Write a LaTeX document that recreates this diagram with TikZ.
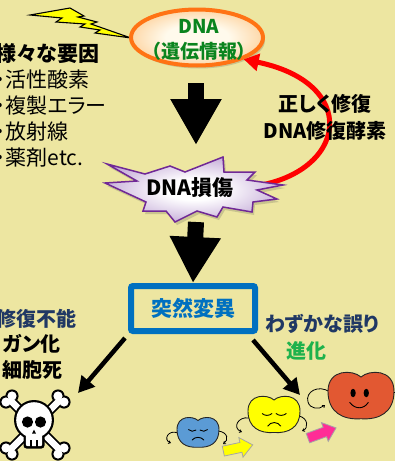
\documentclass[tikz,border=0pt]{standalone}
\usepackage{fontspec}
\setmainfont{Noto Sans CJK JP}[RawFeature=+palt]
\usetikzlibrary{arrows.meta,shapes.geometric,shadows}

\definecolor{bgyellow}{RGB}{237,230,161}
\definecolor{dnaorange}{RGB}{255,115,20}
\definecolor{dnain}{RGB}{255,250,236}
\definecolor{dnaout}{RGB}{252,192,122}
\definecolor{dnagreen}{RGB}{10,132,30}
\definecolor{dmgpurple}{RGB}{112,40,150}
\definecolor{dmgout}{RGB}{180,148,205}
\definecolor{repairred}{RGB}{255,0,0}
\definecolor{boxblue}{RGB}{0,112,192}
\definecolor{navy}{RGB}{32,56,100}
\definecolor{evogreen}{RGB}{30,178,76}
\definecolor{appleblue}{RGB}{91,155,213}
\definecolor{appleyellow}{RGB}{255,255,0}
\definecolor{applered}{RGB}{226,88,50}
\definecolor{arrowpink}{RGB}{255,45,150}
\definecolor{boltyellow}{RGB}{255,255,0}

\pgfdeclareradialshading{dnaglow}{\pgfpointorigin}{color(0bp)=(dnain); color(12bp)=(dnain); color(34bp)=(dnaout); color(50bp)=(dnaout)}
\pgfdeclareradialshading{dmgglow}{\pgfpointorigin}{color(0bp)=(white); color(8bp)=(white); color(32bp)=(dmgout); color(50bp)=(dmgout)}

% unit apple outline, y pointing down
\newcommand{\applepath}{(0,-0.72) .. controls (-0.25,-1.02) and (-1,-1.05) .. (-1,-0.15)
  .. controls (-1,0.7) and (-0.55,1.0) .. (0,0.95)
  .. controls (0.55,1.0) and (1,0.7) .. (1,-0.15)
  .. controls (1,-1.05) and (0.25,-1.02) .. (0,-0.72) -- cycle}
% unit block arrow pointing right, 30 long and 20 wide
\newcommand{\blockarrowpath}{(-15,-5) -- (3,-5) -- (3,-10) -- (15,0) -- (3,10) -- (3,5) -- (-15,5) -- cycle}

\begin{document}
\begin{tikzpicture}[x=1pt,y=-1pt,
  lbl/.style={inner sep=0pt, font=\bfseries\fontsize{20}{27}\selectfont},
  blockarrow/.style={line width=16pt, -{Triangle[width=48pt,length=46pt]}},
  fatearrow/.style={line width=4.5pt, -{Triangle[width=17pt,length=16pt]}},
  repair/.style={line width=5pt, draw=repairred, -{Triangle[width=17pt,length=15pt]}},
  feature/.style={line width=0.9pt, line cap=round},
  arm/.style={line width=0.8pt, -{Straight Barb[length=2pt,width=3pt]}},
  softshadow/.style={drop shadow={opacity=0.22, fill=black!70, shadow xshift=2pt, shadow yshift=-3pt}},
  progress/.style={draw=black!35, line width=0.8pt, line join=miter},
]
\useasboundingbox (0,0) rectangle (395,461);
\fill[bgyellow] (0,0) rectangle (395,461);
\clip (0,0) rectangle (395,461);

% lightning bolt striking the DNA
\filldraw[fill=boltyellow, draw=black, line width=1.1pt, line join=miter]
  (30,15) -- (70,8) -- (84,16) -- (78,17) -- (97,22) -- (91,24) -- (131,38)
  -- (95,33) -- (100,30) -- (80,27) -- (85,24) -- (56,22) -- (62,18) -- cycle;

% DNA (genetic information)
\node[ellipse, minimum width=132pt, minimum height=56pt, draw=dnaorange,
      line width=4pt, shading=dnaglow, softshadow] (dna) at (197,37.5) {};
\node[lbl, align=center, text=dnagreen, font=\bfseries\fontsize{19}{25}\selectfont]
  (dnatext) at (199,40) {DNA\\（遺伝情報）};

% causes
\node[anchor=north west, align=left, inner sep=0pt,
      font=\fontsize{21}{26}\selectfont] (causes) at (-5,43)
  {\textbf{様々な要因}\\・活性酸素\\・複製エラー\\・放射線\\・薬剤etc.};

% damage label (placed first so the repair arc can start from it)
\node[lbl, font=\bfseries\fontsize{21}{21}\selectfont] (dmg) at (190,188) {DNA損傷};

% repair arc back to the DNA
\draw[repair] (dmg.east) .. controls (345,185) and (368,85) .. (dna.-25);
\node[lbl, align=center] (repairtext) at (325,117) {正しく修復\\DNA修復酵素};

% damage starburst
\filldraw[draw=dmgpurple, line width=1.5pt, line join=miter, shading=dmgglow, softshadow]
  (107,164) -- (145,174) -- (170,166) -- (185,172) -- (223,157) -- (224,172)
  -- (255,172) -- (247,180) -- (283,185) -- (257,190) -- (277,199) -- (253,202)
  -- (252,212) -- (223,207) -- (217,217) -- (197,211) -- (175,222) -- (166,211)
  -- (143,211) -- (146,202) -- (105,183) -- (137,181) -- cycle;
\node[lbl, font=\bfseries\fontsize{21}{21}\selectfont] at (dmg.center) {DNA損傷};

% mutation box
\node[draw=boxblue, line width=6pt, rounded corners=2pt, minimum width=124pt,
      minimum height=45pt, inner sep=0pt, text=boxblue,
      font=\bfseries\fontsize{21}{21}\selectfont] (mut) at (193,308.5) {突然変異};

% big block arrows
\coordinate (a1s) at (196,83);
\coordinate (a1e) at (196,145);
\draw[blockarrow] (a1s) -- (a1e);
\coordinate (a2s) at (196,222);
\draw[blockarrow] (a2s) -- (mut.north);

% outcomes
\coordinate (lefttail) at (125,338);
\coordinate (lefthead) at (78,393);
\coordinate (righttail) at (253,340);
\coordinate (righthead) at (300,395);
\draw[fatearrow] (lefttail) -- (lefthead);
\draw[fatearrow] (righttail) -- (righthead);

\node[anchor=north west, align=left, inner sep=0pt,
      font=\bfseries\fontsize{20}{25.5}\selectfont] (fate) at (-4,309)
  {\textcolor{navy}{修復不能}\\\hspace*{7pt}ガン化\\\hspace*{6pt}細胞死};
\node[lbl, text=navy] (slight) at (322,324) {わずかな誤り};
\node[lbl, text=evogreen] (evo) at (306,351) {進化};

% skull and crossbones
\begin{scope}
  \draw[line width=10pt] (9,399) -- (61,451) (61,399) -- (9,451);
  \foreach \p in {(12,396),(6,402),(64,448),(58,454),(64,402),(58,396),(12,454),(6,448)}
    \fill \p circle (6.6);
  \draw[white, line width=6.4pt] (9,399) -- (61,451) (61,399) -- (9,451);
  \foreach \p in {(12,396),(6,402),(64,448),(58,454),(64,402),(58,396),(12,454),(6,448)}
    \fill[white] \p circle (4.6);
  \fill (34,420) circle (20);
  \fill[rounded corners=3pt] (23.5,428) rectangle (44.5,448.5);
  \fill[white] (34,420) circle (17.8);
  \fill[white, rounded corners=2pt] (25.8,428) rectangle (42.2,446.2);
  \fill (27.5,422) circle (5.6) (40.5,422) circle (5.6);
  \fill (32,433.5) -- (36,433.5) -- (34,429.5) -- cycle;
  \draw[line width=1.4pt] (31,440) -- (31,446.5) (37,440) -- (37,446.5);
\end{scope}

% blue apple (sad)
\draw[arm] (178,433) .. controls (168,429) and (163,440) .. (171,443);
\draw[arm] (218,431) .. controls (228,432) and (229,440) .. (223,444);
\begin{scope}[shift={(198,432)}, xscale=21, yscale=16]
  \filldraw[fill=appleblue, draw=black!85, line width=0.9pt] \applepath;
  \draw[feature] (-0.45,-0.15) .. controls (-0.35,-0.02) and (-0.2,-0.02) .. (-0.1,-0.12);
  \draw[feature] (0.1,-0.12) .. controls (0.2,-0.02) and (0.35,-0.02) .. (0.45,-0.15);
  \draw[feature] (-0.28,0.5) .. controls (-0.15,0.28) and (0.15,0.28) .. (0.28,0.5);
\end{scope}

% yellow apple (sad)
\draw[arm] (249,418) .. controls (238,416) and (232,428) .. (242,432);
\draw[arm] (299,416) .. controls (308,418) and (309,428) .. (302,431);
\begin{scope}[shift={(274,414)}, xscale=26, yscale=19.5]
  \filldraw[fill=appleyellow, draw=black!85, line width=0.9pt] \applepath;
  \draw[feature] (-0.45,-0.02) .. controls (-0.35,0.1) and (-0.2,0.1) .. (-0.08,-0.02);
  \draw[feature] (0.08,-0.02) .. controls (0.2,0.1) and (0.35,0.1) .. (0.47,-0.02);
  \draw[feature] (-0.24,0.62) .. controls (-0.12,0.38) and (0.14,0.38) .. (0.26,0.62);
\end{scope}

% red apple (happy)
\draw[arm] (330,392) .. controls (318,384) and (305,392) .. (308,402)
  .. controls (310,409) and (319,410) .. (325,405);
\draw[arm] (393,392) -- (398,392);
\begin{scope}[shift={(361,395)}, xscale=33, yscale=25]
  \filldraw[fill=applered, draw=black!85, line width=0.9pt] \applepath;
  \fill (-0.24,-0.08) ellipse [x radius=0.08, y radius=0.17];
  \fill (0.16,-0.08) ellipse [x radius=0.08, y radius=0.17];
  \draw[feature] (-0.34,0.3) .. controls (-0.18,0.58) and (0.08,0.58) .. (0.22,0.3);
\end{scope}

% small progress arrows between the apples
\begin{scope}[shift={(238,448)}, rotate=12]
  \filldraw[progress, fill=appleyellow] \blockarrowpath;
\end{scope}
\begin{scope}[shift={(322,433)}, rotate=20]
  \filldraw[progress, fill=arrowpink] \blockarrowpath;
\end{scope}
\end{tikzpicture}
\end{document}
